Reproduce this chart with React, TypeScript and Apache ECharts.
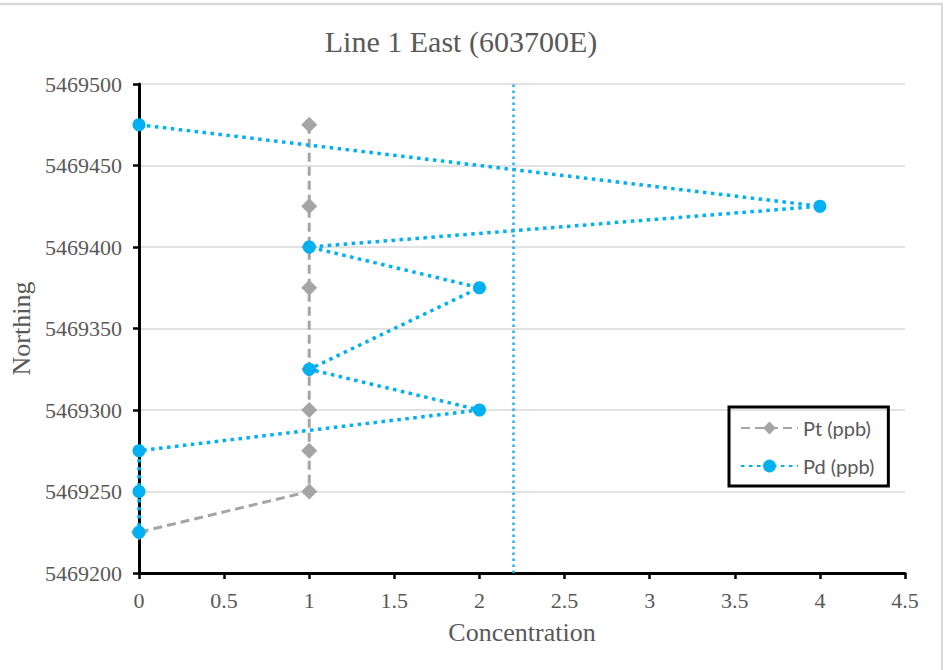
import React, { useEffect, useRef } from "react";
import * as echarts from "echarts";

const titleText = "Line 1 East (603700E)";
const xAxisName = "Concentration";
const yAxisName = "Northing";
const seriesNames = ["Pt (ppb)", "Pd (ppb)"];
const northing = [5469475, 5469425, 5469400, 5469375, 5469325, 5469300, 5469275, 5469250, 5469225];
const ptValues = [1, 1, 1, 1, 1, 1, 1, 1, 0];
const pdValues = [0, 4, 1, 2, 1, 2, 0, 0, 0];
const threshold = 2.2;
const xMin = 0;
const xMax = 4.5;
const xInterval = 0.5;
const yMin = 5469200;
const yMax = 5469500;
const yInterval = 50;

const SERIF = "'Liberation Serif', 'Times New Roman', serif";
const TEXT = "#595959";
const PT_COLOR = "#a5a5a5";
const PD_COLOR = "#00b0f0";

export default function App() {
  const ref = useRef<HTMLDivElement>(null);
  useEffect(() => {
    if (!ref.current) return;
    const chart = echarts.init(ref.current, undefined, { renderer: "svg" });
    const option: any = {
      animation: false,
      backgroundColor: "#ffffff",
      title: {
        text: titleText,
        left: 461,
        top: 26,
        textAlign: "center",
        padding: 0,
        textStyle: { fontFamily: SERIF, fontSize: 30, fontWeight: "normal", color: TEXT },
      },
      grid: { left: 138, right: 43, top: 84, bottom: 97, containLabel: false },
      legend: {
        orient: "vertical",
        left: 729,
        top: 407,
        padding: [11, 14, 10, 11],
        borderColor: "#000000",
        borderWidth: 3,
        itemWidth: 57,
        itemHeight: 16,
        itemGap: 18,
        textStyle: { fontFamily: "Lato, 'Open Sans', sans-serif", fontSize: 20, color: TEXT },
        data: seriesNames,
      },
      xAxis: {
        type: "value",
        min: xMin,
        max: xMax,
        interval: xInterval,
        name: xAxisName,
        nameLocation: "middle",
        nameGap: 46,
        nameTextStyle: { fontFamily: SERIF, fontSize: 26, color: TEXT },
        axisLine: { show: true, onZero: false, lineStyle: { color: "#000000", width: 3 } },
        axisTick: { show: true, length: 6, lineStyle: { color: "#000000", width: 2.5 } },
        axisLabel: {
          fontFamily: SERIF,
          fontSize: 22,
          color: TEXT,
          margin: 16,
          formatter: (v: number) => String(v),
        },
        splitLine: { show: false },
      },
      yAxis: {
        type: "value",
        min: yMin,
        max: yMax,
        interval: yInterval,
        name: yAxisName,
        nameLocation: "middle",
        nameGap: 105,
        nameRotate: 90,
        nameTextStyle: { fontFamily: SERIF, fontSize: 26, color: TEXT },
        axisLine: { show: true, onZero: false, lineStyle: { color: "#000000", width: 3 } },
        axisTick: { show: true, length: 6, lineStyle: { color: "#000000", width: 2.5 } },
        axisLabel: {
          fontFamily: SERIF,
          fontSize: 22,
          color: TEXT,
          margin: 17,
          formatter: (v: number) => String(v),
        },
        splitLine: { show: true, lineStyle: { color: "#d9d9d9", width: 1.5 } },
      },
      series: [
        {
          name: seriesNames[0],
          type: "line",
          data: northing.map((n, i) => [ptValues[i], n]),
          symbol: "diamond",
          symbolSize: 16,
          itemStyle: { color: PT_COLOR },
          lineStyle: { color: PT_COLOR, width: 3, type: [9, 5] },
          z: 2,
        },
        {
          name: seriesNames[1],
          type: "line",
          data: northing.map((n, i) => [pdValues[i], n]),
          symbol: "circle",
          symbolSize: 13,
          itemStyle: { color: PD_COLOR },
          lineStyle: { color: PD_COLOR, width: 3.5, type: [3.5, 4.5] },
          z: 3,
          markLine: {
            silent: true,
            symbol: ["none", "none"],
            label: { show: false },
            lineStyle: { color: "#1fb4ec", width: 2.5, type: [2.5, 3.5] },
            data: [{ xAxis: threshold }],
          },
        },
      ],
      graphic: [
        {
          type: "line",
          shape: { x1: 0, y1: 4, x2: 943, y2: 4 },
          style: { stroke: "#d9d9d9", lineWidth: 2.5 },
        },
        {
          type: "line",
          shape: { x1: 942, y1: 4, x2: 942, y2: 670 },
          style: { stroke: "#d9d9d9", lineWidth: 2 },
        },
      ],
    };
    chart.setOption(option);
    return () => chart.dispose();
  }, []);
  return (
    <div
      ref={ref}
      style={{ position: "absolute", left: 0, top: 0, width: 948, height: 670, background: "#fff" }}
    />
  );
}
